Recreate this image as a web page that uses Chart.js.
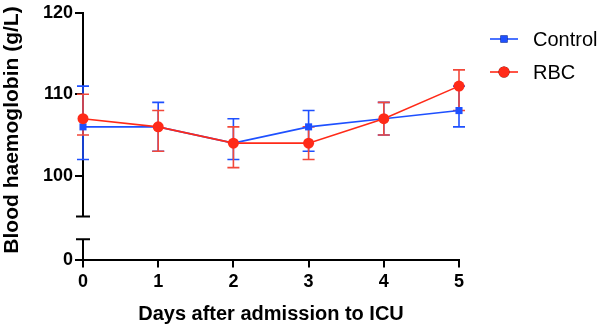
<!DOCTYPE html>
<html lang="en">
<head>
<meta charset="UTF-8">
<title>Blood haemoglobin</title>
<style>
  body { margin: 0; background: #fff; }
  #wrap { width: 598px; height: 327px; position: relative; }
</style>
<script src="https://cdn.jsdelivr.net/npm/chart.js"></script>
</head>
<body>
<div id="wrap"><canvas id="hbChart"></canvas></div>
<script>
  // data
  const days = [0, 1, 2, 3, 4, 5];
  const controlMean = [106, 106, 104, 106, 107, 108];
  const controlLow = [102, 103, 102, 103, 105, 106];
  const controlHigh = [111, 109, 107, 108, 109, 111];
  const rbcMean = [107, 106, 104, 104, 107, 111];
  const rbcLow = [105, 103, 101, 102, 105, 108];
  const rbcHigh = [110, 108, 106, 106, 109, 113];
  const yTicksUpper = [100, 110, 120];
  const yTicksLower = [0];
  const xTicks = [0, 1, 2, 3, 4, 5];

  const BLUE = '#1e50ff';
  const RED = '#ff2a18';
  const RED_ERR = '#f2483a';
  const FONT = "'Liberation Sans', Arial, sans-serif";

  // error bars, broken axis pieces, y title and legend
  const extras = {
    id: 'extras',
    beforeDatasetsDraw(chart) {
      const ctx = chart.ctx;
      const xs = chart.scales.x;
      const ys = chart.scales.y;
      ctx.save();
      chart.data.datasets.slice().reverse().forEach(ds => {
        ctx.strokeStyle = ds.errColor;
        ctx.lineWidth = 1.6;
        ds.data.forEach((p, i) => {
          const x = xs.getPixelForValue(p.x);
          const yl = ys.getPixelForValue(ds.errLow[i]);
          const yh = ys.getPixelForValue(ds.errHigh[i]);
          ctx.beginPath();
          ctx.moveTo(x, yl); ctx.lineTo(x, yh);
          ctx.moveTo(x - 6, yl); ctx.lineTo(x + 6, yl);
          ctx.moveTo(x - 6, yh); ctx.lineTo(x + 6, yh);
          ctx.stroke();
        });
      });
      ctx.restore();
    },
    afterDraw(chart) {
      const ctx = chart.ctx;
      const ys = chart.scales.y;
      const yl = chart.scales.yLow;
      const ax = chart.chartArea.left;
      ctx.save();
      ctx.strokeStyle = '#000';
      ctx.lineWidth = 2;
      // upper segment end cap
      const yEnd = ys.getPixelForValue(ys.min);
      ctx.beginPath();
      ctx.moveTo(ax - 7, yEnd); ctx.lineTo(ax + 7, yEnd);
      // lower segment
      const y0 = yl.getPixelForValue(0);
      const yTop = yl.getPixelForValue(2.6);
      ctx.moveTo(ax, y0); ctx.lineTo(ax, yTop);
      ctx.moveTo(ax - 7, yTop); ctx.lineTo(ax + 7, yTop);
      ctx.stroke();

      // y axis title
      ctx.fillStyle = '#000';
      ctx.font = 'bold 21px ' + FONT;
      ctx.textAlign = 'center';
      ctx.textBaseline = 'middle';
      ctx.translate(12, 130);
      ctx.rotate(-Math.PI / 2);
      ctx.fillText('Blood haemoglobin (g/L)', 0, 0);
      ctx.setTransform(1, 0, 0, 1, 0, 0);

      // legend
      const lx = chart.chartArea.right + 31;
      const rows = [39, 72];
      ctx.font = '20px ' + FONT;
      ctx.textAlign = 'left';
      [chart.data.datasets[1], chart.data.datasets[0]].forEach((ds, k) => {
        const y = rows[k];
        ctx.strokeStyle = ds.borderColor;
        ctx.lineWidth = 1.6;
        ctx.beginPath();
        ctx.moveTo(lx, y); ctx.lineTo(lx + 28, y);
        ctx.stroke();
        Chart.helpers.drawPoint(ctx, {
          pointStyle: ds.pointStyle, radius: ds.pointRadius, borderWidth: 0
        }, lx + 14, y);
        ctx.fillStyle = ds.borderColor;
        ctx.fill();
        ctx.fillStyle = '#000';
        ctx.fillText(ds.label, lx + 43, y + 1);
      });
      ctx.restore();
    }
  };

  const tickFont = { family: FONT, size: 18, weight: 'bold' };

  new Chart(document.getElementById('hbChart'), {
    type: 'line',
    data: {
      datasets: [
        {
          label: 'RBC',
          data: days.map((d, i) => ({ x: d, y: rbcMean[i] })),
          xAxisID: 'x', yAxisID: 'y',
          errLow: rbcLow, errHigh: rbcHigh, errColor: RED_ERR,
          borderColor: RED, backgroundColor: RED,
          borderWidth: 1.6, pointStyle: 'circle', pointRadius: 5.5,
          pointBorderWidth: 0, clip: false, order: 0
        },
        {
          label: 'Control',
          data: days.map((d, i) => ({ x: d, y: controlMean[i] })),
          xAxisID: 'x', yAxisID: 'y',
          errLow: controlLow, errHigh: controlHigh, errColor: BLUE,
          borderColor: BLUE, backgroundColor: BLUE,
          borderWidth: 1.6, pointStyle: 'rect', pointRadius: 5,
          pointBorderWidth: 0, clip: false, order: 1
        }
      ]
    },
    options: {
      responsive: true,
      maintainAspectRatio: false,
      animation: false,
      layout: { padding: { top: 2, right: 139, left: 0, bottom: 1 } },
      plugins: { legend: { display: false }, tooltip: { enabled: false } },
      scales: {
        x: {
          type: 'linear', min: 0, max: 5,
          afterBuildTicks: s => { s.ticks = xTicks.map(v => ({ value: v })); },
          ticks: { font: tickFont, color: '#000', padding: 4 },
          grid: { drawOnChartArea: false, drawTicks: true, tickLength: 7, color: '#000', lineWidth: 2 },
          border: { display: true, color: '#000', width: 2 },
          title: {
            display: true, text: 'Days after admission to ICU', color: '#000',
            font: { family: FONT, size: 20, weight: 'bold' }, padding: { top: 5, bottom: 0 }
          }
        },
        yLow: {
          type: 'linear', position: 'left', stack: 'hb', stackWeight: 44,
          min: 0, max: 5.39,
          afterBuildTicks: s => { s.ticks = yTicksLower.map(v => ({ value: v })); },
          afterFit: s => { s.width = 83; },
          ticks: { font: tickFont, color: '#000', padding: 2 },
          grid: { drawOnChartArea: false, drawTicks: true, tickLength: 8, color: '#000', lineWidth: 2 },
          border: { display: false }
        },
        y: {
          type: 'linear', position: 'left', stack: 'hb', stackWeight: 204,
          min: 95, max: 120,
          afterBuildTicks: s => { s.ticks = yTicksUpper.map(v => ({ value: v })); },
          afterFit: s => { s.width = 83; },
          ticks: { font: tickFont, color: '#000', padding: 2 },
          grid: { drawOnChartArea: false, drawTicks: true, tickLength: 8, color: '#000', lineWidth: 2 },
          border: { display: true, color: '#000', width: 2 }
        }
      }
    },
    plugins: [extras]
  });
</script>
</body>
</html>
